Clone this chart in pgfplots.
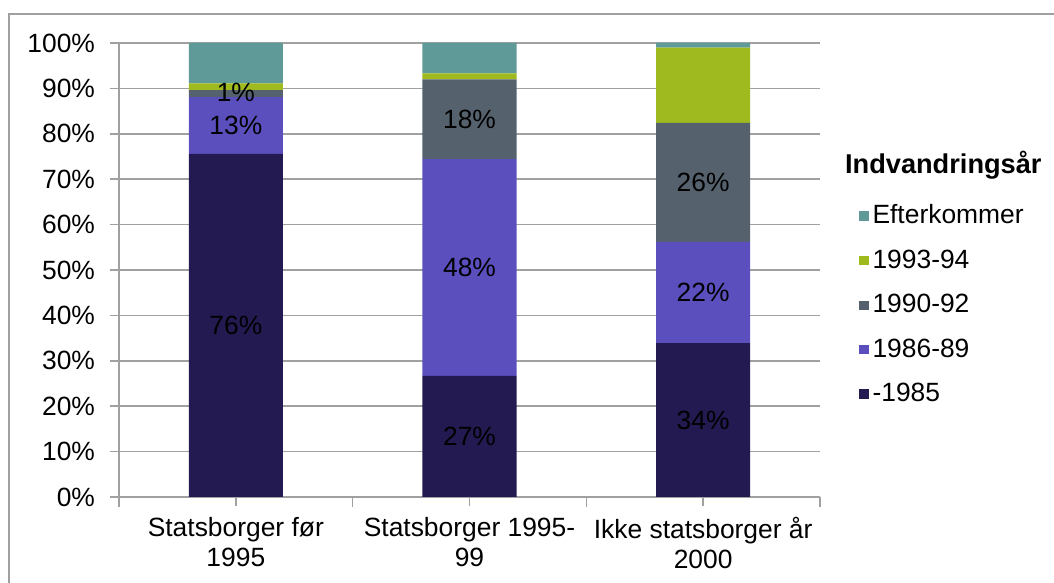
\documentclass[border=0pt]{standalone}
\usepackage{pgfplots}
\pgfplotsset{compat=1.18}
\usepackage{fontspec}
\setmainfont{Liberation Sans}
\definecolor{cEft}{HTML}{5F9A98}
\definecolor{cA}{HTML}{9FBA1E}
\definecolor{cB}{HTML}{55626E}
\definecolor{cC}{HTML}{5B4FBE}
\definecolor{cD}{HTML}{221A50}
\definecolor{gridg}{HTML}{A0A0A0}
\newcommand{\fs}{\fontsize{13.2}{15}\selectfont}
\begin{document}
\begin{tikzpicture}
\useasboundingbox (-59.5pt,-43pt) rectangle (467.5pt,248.5pt);
\draw[gridg,line width=0.8pt] (-55pt,-50pt) -- (-55pt,241.5pt) -- (480pt,241.5pt);
\begin{axis}[
  at={(0pt,0pt)}, anchor=south west,
  scale only axis, width=350.5pt, height=227pt,
  ybar stacked, bar width=47pt,
  xmin=-0.5, xmax=2.5, ymin=0, ymax=100,
  xtick={0,1,2},
  xticklabels={{Statsborger før\\1995}, {Statsborger 1995-\\99}, {Ikke statsborger år\\2000}},
  xticklabel style={align=center, font=\fs, yshift=-2pt},
  minor xtick={-0.5,0.5,1.5,2.5},
  ytick={0,10,20,30,40,50,60,70,80,90,100},
  yticklabels={0\%,10\%,20\%,30\%,40\%,50\%,60\%,70\%,80\%,90\%,100\%},
  yticklabel style={font=\fs, xshift=-4pt},
  axis x line*=bottom, axis y line*=left,
  axis line style={gridg, line width=0.8pt},
  tick align=outside,
  tick style={gridg, line width=0.8pt},
  minor tick length=5pt,
  major tick length=4.5pt,
  ymajorgrids, grid style={gridg, line width=0.8pt},
  legend image code/.code={\fill[#1,draw=none] (0pt,-2.3pt) rectangle (4.6pt,2.3pt);},
  reverse legend,
  legend cell align=left,
  legend style={draw=none, fill=none, at={(1.047,0.662)}, anchor=north west,
    font=\fs, row sep=7.5pt},
]
\addplot[fill=cD, draw=none] coordinates {(0,75.6) (1,26.7) (2,33.9)};
\addlegendentry{-1985}
\addplot[fill=cC, draw=none] coordinates {(0,12.5) (1,47.7) (2,22.3)};
\addlegendentry{1986-89}
\addplot[fill=cB, draw=none] coordinates {(0,1.5) (1,17.6) (2,26.2)};
\addlegendentry{1990-92}
\addplot[fill=cA, draw=none] coordinates {(0,1.5) (1,1.3) (2,16.6)};
\addlegendentry{1993-94}
\addplot[fill=cEft, draw=none] coordinates {(0,8.9) (1,6.7) (2,1.0)};
\addlegendentry{Efterkommer}
\end{axis}
\begin{axis}[
  at={(0pt,0pt)}, anchor=south west,
  scale only axis, width=350.5pt, height=227pt,
  xmin=-0.5, xmax=2.5, ymin=0, ymax=100,
  hide axis, clip=false,
]
\addplot[draw=none, mark=none, nodes near coords, point meta=explicit symbolic,
  every node near coord/.append style={font=\fs, text=black, anchor=center}]
  coordinates {
  (0,37.8) [76\%] (0,81.9) [13\%] (0,89.2) [1\%]
  (1,13.3) [27\%] (1,50.5) [48\%] (1,83.2) [18\%]
  (2,16.9) [34\%] (2,45.0) [22\%] (2,69.3) [26\%]
  };
\node[anchor=west, font=\bfseries\fontsize{13.6}{15}\selectfont] at (rel axis cs:1.0257,0.731) {Indvandringsår};
\end{axis}
\end{tikzpicture}
\end{document}
